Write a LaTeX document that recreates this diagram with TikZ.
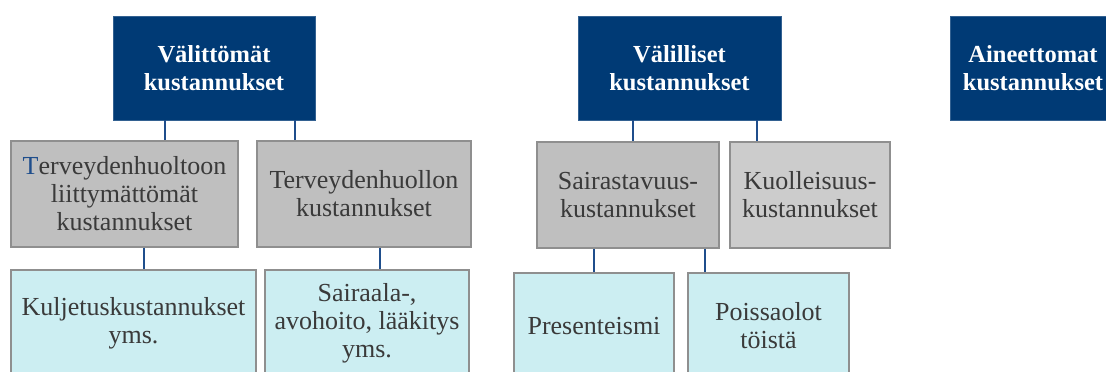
\documentclass[tikz,border=0pt]{standalone}
\usepackage{fontspec}
\setmainfont{Liberation Serif}
\definecolor{navy}{HTML}{003A75}
\definecolor{navyline}{HTML}{1F4E8C}
\definecolor{grayfill}{HTML}{BFBFBF}
\definecolor{grayfillb}{HTML}{CCCCCC}
\definecolor{grayedge}{HTML}{8F8F8F}
\definecolor{lightblue}{HTML}{CCEEF2}
\definecolor{txt}{HTML}{3A3A3A}
\definecolor{tblue}{HTML}{1F4E8C}
\tikzset{
  x=1pt, y=-1pt,
  topbox/.style={fill=navy, draw=navy!80!white, line width=0.8pt, text=white,
    font=\fontsize{24.5}{28}\selectfont\bfseries, align=center, inner sep=0pt,
    minimum height=104pt},
  midbox/.style={fill=grayfill, draw=grayedge, line width=1.5pt, text=txt,
    font=\fontsize{26}{28}\selectfont, align=center, inner sep=0pt,
    minimum height=106pt},
  lowbox/.style={fill=lightblue, draw=grayedge, line width=1.5pt, text=txt,
    font=\fontsize{26}{28}\selectfont, align=center, inner sep=0pt,
    minimum height=106pt},
  link/.style={draw=navyline, line width=2pt}
}
\begin{document}
\begin{tikzpicture}
\useasboundingbox (0,0) rectangle (1106,372);
\clip (0,0) rectangle (1106,372);
% top level
\node[topbox, minimum width=202pt] (V1) at (214,68) {Välittömät\\kustannukset};
\node[topbox, minimum width=203pt] (V2) at (679.5,68) {Välilliset\\kustannukset};
\node[topbox, minimum width=166pt] (V3) at (1033,68.5) {Aineettomat\\kustannukset};
% middle level
\node[midbox, minimum width=227pt] (G1) at (124.5,194) {{\color{tblue}T}erveydenhuoltoon\\liittymättömät\\kustannukset};
\node[midbox, minimum width=214pt] (G2) at (364,194) {Terveydenhuollon\\kustannukset};
\node[midbox, minimum width=182pt] (G3) at (628,195) {Sairastavuus-\\kustannukset};
\node[midbox, fill=grayfillb, minimum width=160pt] (G4) at (810,195) {Kuolleisuus-\\kustannukset};
% bottom level
\node[lowbox, minimum width=245pt] (L1) at (133.5,323) {Kuljetuskustannukset\\yms.};
\node[lowbox, minimum width=204pt] (L2) at (367,323) {Sairaala-,\\avohoito, lääkitys\\yms.};
\node[lowbox, minimum width=160pt] (L3) at (594,326) {Presenteismi};
\node[lowbox, minimum width=161pt] (L4) at (768.5,326) {Poissaolot\\töistä};
% connectors
\draw[link] (V1.south -| 165,0) -- (G1.north -| 165,0);
\draw[link] (V1.south -| 295,0) -- (G2.north -| 295,0);
\draw[link] (V2.south -| 633,0) -- (G3.north -| 633,0);
\draw[link] (V2.south -| 757,0) -- (G4.north -| 757,0);
\draw[link] (G1.south -| 144,0) -- (L1.north -| 144,0);
\draw[link] (G2.south -| 380,0) -- (L2.north -| 380,0);
\draw[link] (G3.south -| 594,0) -- (L3.north -| 594,0);
\draw[link] (G3.south -| 705,0) -- (L4.north -| 705,0);
\end{tikzpicture}
\end{document}
